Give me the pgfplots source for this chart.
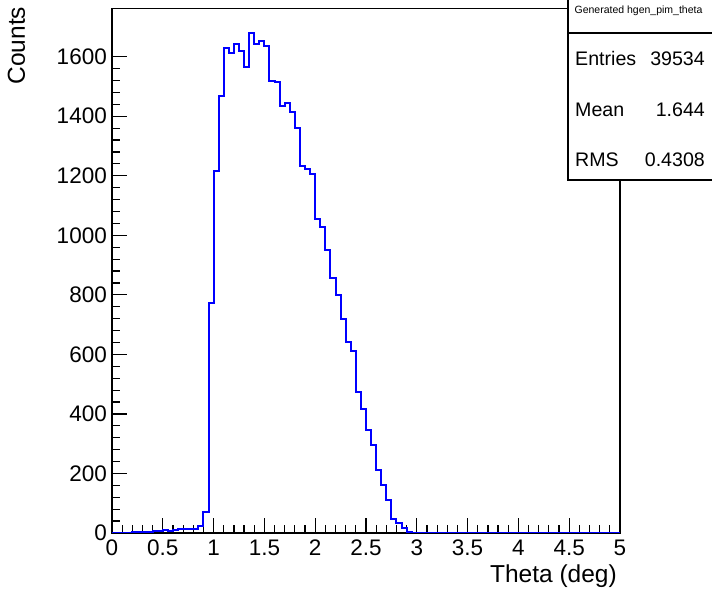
\documentclass[border=0pt]{standalone}
\usepackage{fontspec}
\setmainfont{Liberation Sans}
\usepackage{pgfplots}
\pgfplotsset{compat=1.18}
\definecolor{rootblue}{RGB}{0,0,255}
\begin{document}
\begin{tikzpicture}[x=1pt,y=1pt]
\useasboundingbox (0,0) rectangle (712,596);
\begin{axis}[
  at={(112pt,63pt)}, anchor=south west,
  scale only axis, width=508pt, height=524.5pt,
  xmin=0, xmax=5, ymin=0, ymax=1762,
  xtick={0,0.5,1,1.5,2,2.5,3,3.5,4,4.5,5},
  ytick={0,200,400,600,800,1000,1200,1400,1600},
  minor x tick num=4, minor y tick num=4,
  tick pos=left, tick align=inside,
  major tick length=15pt, minor tick length=7.5pt,
  every tick/.style={black, line width=1.2pt},
  axis line style={line width=1.3pt},
  scaled y ticks=false,
  /pgf/number format/assume math mode=true,
  /pgf/number format/1000 sep={},
  ticklabel style={font=\fontsize{22.5}{26}\selectfont},
  xticklabel style={inner sep=0pt, anchor=north, yshift=-7pt},
  yticklabel style={inner sep=0pt, anchor=east, xshift=-5pt},
  xlabel={Theta (deg)},
  xlabel style={at={(axis description cs:1,0)}, anchor=base east, inner sep=0pt, yshift=-50pt, xshift=-3pt, font=\fontsize{24.5}{28}\selectfont},
  ylabel={Counts},
  ylabel style={at={(axis description cs:-0.1713,1.0034)}, anchor=base east, inner sep=0pt, font=\fontsize{24.5}{28}\selectfont},
]
\addplot[const plot, color=rootblue, line width=2pt, mark=none] coordinates {
(0.00,1) (0.05,1) (0.10,0) (0.15,1) (0.20,2) (0.25,2) (0.30,4) (0.35,3) (0.40,6) (0.45,8)
(0.50,10) (0.55,6) (0.60,10) (0.65,12) (0.70,15) (0.75,14) (0.80,15) (0.85,25) (0.90,72) (0.95,774)
(1.00,1217) (1.05,1469) (1.10,1630) (1.15,1612) (1.20,1644) (1.25,1618) (1.30,1565) (1.35,1678) (1.40,1643) (1.45,1653)
(1.50,1636) (1.55,1517) (1.60,1516) (1.65,1435) (1.70,1444) (1.75,1413) (1.80,1359) (1.85,1234) (1.90,1224) (1.95,1206)
(2.00,1054) (2.05,1029) (2.10,950) (2.15,857) (2.20,800) (2.25,718) (2.30,640) (2.35,612) (2.40,475) (2.45,418)
(2.50,347) (2.55,295) (2.60,213) (2.65,162) (2.70,112) (2.75,48) (2.80,34) (2.85,17) (2.90,3) (2.95,0)
(5.00,0)
};
\end{axis}
\draw[line width=1.3pt, fill=white] (568,416) rectangle (713,598);
\draw[line width=1.3pt] (568,563) -- (713,563);
\node[anchor=base, inner sep=0pt, font=\fontsize{10.5}{12}\selectfont] at (638.5,582.7) {Generated hgen\_pim\_theta};
\node[anchor=base west, inner sep=0pt, font=\fontsize{19.6}{22}\selectfont] at (575,530.3) {Entries};
\node[anchor=base east, inner sep=0pt, font=\fontsize{19.6}{22}\selectfont] at (705,530.3) {39534};
\node[anchor=base west, inner sep=0pt, font=\fontsize{19.6}{22}\selectfont] at (575,479.3) {Mean};
\node[anchor=base east, inner sep=0pt, font=\fontsize{19.6}{22}\selectfont] at (705,479.3) {1.644};
\node[anchor=base west, inner sep=0pt, font=\fontsize{19.6}{22}\selectfont] at (575,429.3) {RMS};
\node[anchor=base east, inner sep=0pt, font=\fontsize{19.6}{22}\selectfont] at (705,429.3) {0.4308};
\end{tikzpicture}
\end{document}
